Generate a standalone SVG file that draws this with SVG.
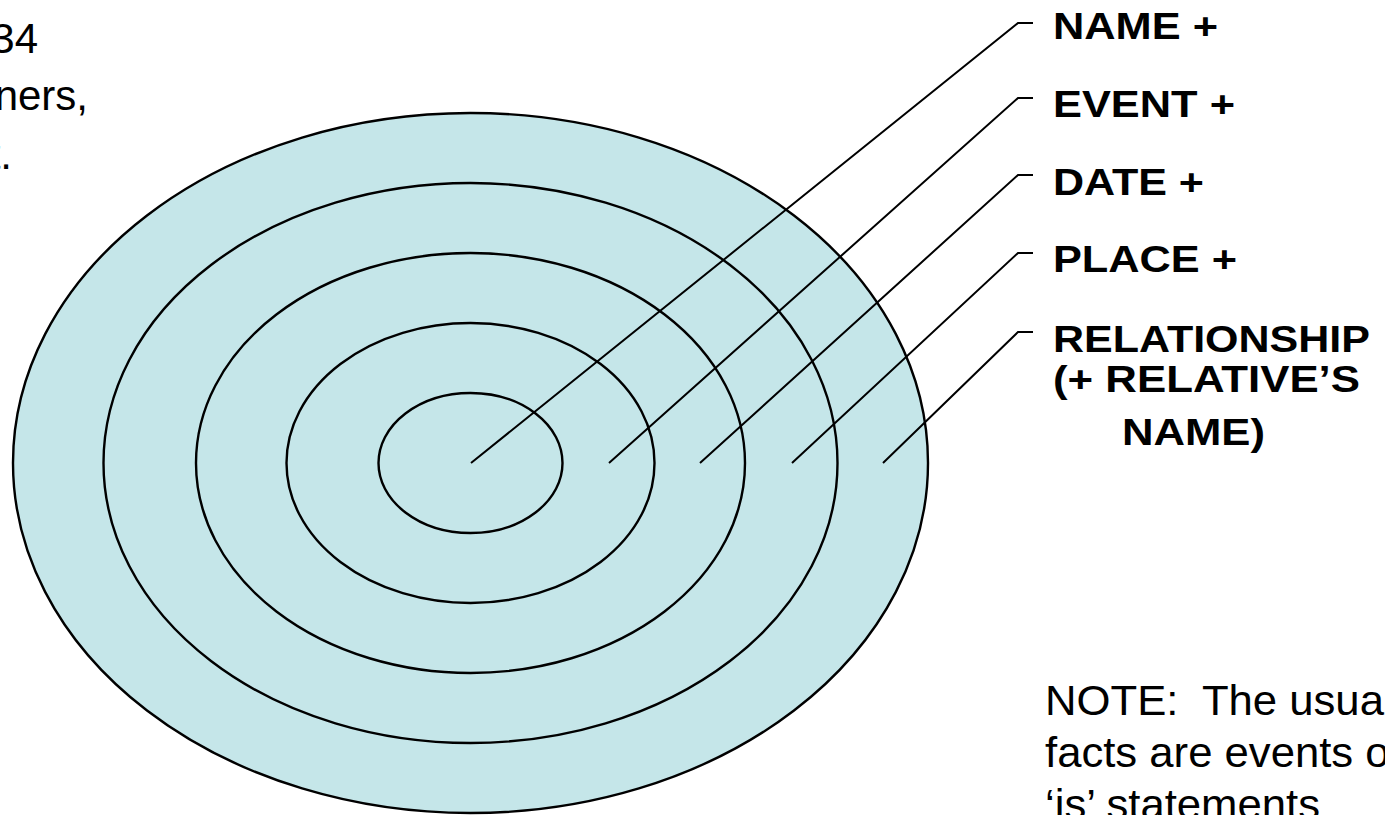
<svg xmlns="http://www.w3.org/2000/svg" width="1385" height="815" viewBox="0 0 1385 815">
<style>
.ring{fill:#C5E6E9;stroke:#000;stroke-width:2.4}
.lead{fill:none;stroke:#000;stroke-width:2}
.lbl{font-family:"Liberation Sans",Arial,sans-serif;font-weight:bold;font-size:37px;fill:#000}
.txt{font-family:"Liberation Sans",Arial,sans-serif;font-size:42px;fill:#000;white-space:pre}
.tl{font-family:"Liberation Sans",Arial,sans-serif;font-size:42px;fill:#000}
</style>
<rect width="1385" height="815" fill="#fff"/>
<g id="rings">
<ellipse id="ring5" class="ring" cx="470.5" cy="463" rx="457.5" ry="350"/>
<ellipse id="ring4" class="ring" cx="470.5" cy="463" rx="367" ry="280"/>
<ellipse id="ring3" class="ring" cx="470.5" cy="463" rx="274.5" ry="210"/>
<ellipse id="ring2" class="ring" cx="470.5" cy="463" rx="184" ry="140"/>
<ellipse id="ring1" class="ring" cx="470.5" cy="463" rx="92" ry="70"/>
</g>
<g id="connectors">
<path class="lead" d="M471,463 L1018,23 L1033,23"/>
<path class="lead" d="M609,463 L1018,98 L1033,98"/>
<path class="lead" d="M700,463 L1018,175 L1033,175"/>
<path class="lead" d="M792,463 L1018,253 L1033,253"/>
<path class="lead" d="M883,463 L1018,332 L1033,332"/>
</g>
<g id="label-name"><text class="lbl" x="1053" y="39" textLength="165" lengthAdjust="spacingAndGlyphs">NAME +</text></g>
<g id="label-event"><text class="lbl" x="1053" y="117" textLength="182" lengthAdjust="spacingAndGlyphs">EVENT +</text></g>
<g id="label-date"><text class="lbl" x="1053" y="195" textLength="151" lengthAdjust="spacingAndGlyphs">DATE +</text></g>
<g id="label-place"><text class="lbl" x="1053" y="272" textLength="184" lengthAdjust="spacingAndGlyphs">PLACE +</text></g>
<g id="label-relationship">
<text class="lbl" x="1053" y="352" textLength="317" lengthAdjust="spacingAndGlyphs">RELATIONSHIP</text>
<text class="lbl" x="1053" y="392" textLength="307" lengthAdjust="spacingAndGlyphs">(+ RELATIVE’S</text>
<text class="lbl" x="1122" y="445" textLength="143" lengthAdjust="spacingAndGlyphs">NAME)</text>
</g>
<g id="note" transform="translate(1045 0) scale(1.04 1)">
<text class="txt" x="0" y="715">NOTE:  The usua</text>
<text class="txt" x="0" y="767">facts are events o</text>
<text class="txt" x="0" y="819">‘is’ statements</text>
</g>
<g id="topleft">
<text class="tl" x="38" y="53" text-anchor="end">34</text>
<text class="tl" x="88" y="110" text-anchor="end">ners,</text>
<text class="tl" x="12" y="169" text-anchor="end">t.</text>
</g>
</svg>
